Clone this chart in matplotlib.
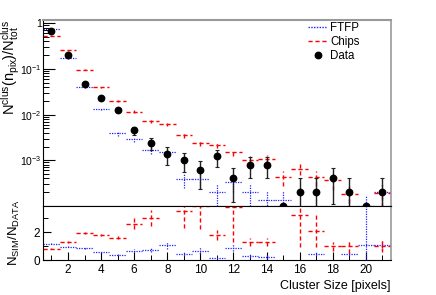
import numpy as np
import matplotlib
matplotlib.use("Agg")
from matplotlib import pyplot as plt
from matplotlib.lines import Line2D
from matplotlib.ticker import FixedLocator, FuncFormatter, NullFormatter

plt.rcParams['font.family'] = ['Liberation Sans', 'DejaVu Sans']
plt.rcParams['mathtext.fontset'] = 'custom'
plt.rcParams['mathtext.rm'] = 'Liberation Sans'
plt.rcParams['mathtext.it'] = 'Liberation Sans:italic'

# cluster size bins 1..21
size = np.arange(1, 22)

data = [0.69, 0.203, 0.047, 0.023, 0.0126, 0.0045, 0.0024, 0.0014, 0.001, 0.0006, 0.00122,
        0.0004, 0.00081, 0.00081, 0.0001, 0.0002, 0.0002, 0.0004, 0.0002, 0.0001, 0.0002]
data_err = [0.006, 0.0032, 0.0015, 0.0011, 0.0008, 0.001, 0.0007, 0.0006, 0.00045, 0.00037, 0.0005,
            0.00028, 0.0004, 0.0004, 0, 0.0002, 0.0002, 0.00029, 0.0002, 0, 0.0002]

chips = [0.536, 0.257, 0.0955, 0.0393, 0.0201, 0.0116, 0.0072, 0.0061, 0.0035, 0.00235, 0.00216,
         0.00152, 0.00102, 0.00109, 0.00043, 0.00066, 0.00043, 0.000366, 0.00018, np.nan, 0.000195]
chips_err = [0.005, 0.0036, 0.0022, 0.0014, 0.001, 0.00076, 0.0006, 0.00055, 0.00042, 0.00034, 0.00033,
             0.00028, 0.00023, 0.00023, 0.00015, 0.00018, 0.00015, 0.00014, 0.0001, np.nan, 0.0001]

ftfp = [0.75, 0.172, 0.040, 0.0135, 0.0039, 0.0029, 0.00169, 0.0015, 0.00039, 0.00039, 0.0002,
        0.00033, 0.0002, 0.000134, 0.000134, np.nan, 0.00008, np.nan, 0.00008, 0.0001, 0.0002]
ftfp_err = [0.006, 0.003, 0.0014, 0.0008, 0.00044, 0.00038, 0.00029, 0.00027, 0.00014, 0.00014, 0.0001,
            0.00013, 0.0001, 0.00008, 0.00008, np.nan, 0.00006, np.nan, 0.00006, 0.00007, 0.0001]

# ratio sim / data
ratio_chips = [0.82, 1.28, 1.95, 1.78, 1.59, 2.6, 3.0, np.nan, 3.47, 3.85, 1.8,
               3.8, 1.3, 1.3, np.nan, 3.23, 2.07, 0.99, 0.99, np.nan, 0.99]
ratio_chips_err = [0.03, 0.05, 0.08, 0.08, 0.1, 0.4, 0.6, np.nan, 1.15, 1.65, 0.35,
                   2.5, 0.3, 0.3, np.nan, 2.27, 1.15, 0.32, 0.47, np.nan, 0.45]
ratio_ftfp = [1.16, 0.94, 0.87, 0.58, 0.38, 0.67, 0.7, 1.06, 0.45, 0.67, 0.17,
              0.87, 0.3, 0.22, np.nan, np.nan, 0.43, np.nan, 0.43, 1.1, 1.1]
ratio_ftfp_err = [0.03, 0.04, 0.05, 0.05, 0.05, 0.12, 0.15, 0.25, 0.15, 0.25, 0.12,
                  0.25, 0.15, 0.12, np.nan, np.nan, 0.15, np.nan, 0.15, 3.0, 0.35]

RED = '#ff0000'
BLUE = '#2020ff'
DASH = (0, (3, 2))
DOT = (0, (1, 1))


def sim_hist(ax, x, y, e, color, ls, lw):
    eb = ax.errorbar(x, y, xerr=0.5, yerr=e, fmt='none', ecolor=color, elinewidth=lw, capsize=0)
    for lc in eb[2]:
        lc.set_linestyle(ls)
    return eb


fig = plt.figure(figsize=(4.36, 2.95), dpi=100)
ax = fig.add_axes([0.099, 0.3017, 0.797, 0.6305])
axr = fig.add_axes([0.099, 0.1186, 0.797, 0.1831])

# top panel
sim_hist(ax, size, ftfp, ftfp_err, BLUE, DOT, 0.9)
sim_hist(ax, size, chips, chips_err, RED, DASH, 1.0)
ax.errorbar(size, data, yerr=data_err, fmt='o', color='black', ms=4.6,
            ecolor='#222222', elinewidth=1.0, capsize=1.5, capthick=0.8)

ax.set_yscale('log')
ax.set_ylim(1e-4, 1.18)
ax.set_xlim(0.5, 21.5)
ax.yaxis.set_major_locator(FixedLocator([1, 0.1, 0.01, 0.001]))
ax.yaxis.set_major_formatter(FuncFormatter(lambda v, p: '1' if v == 1 else r'$10^{%d}$' % round(np.log10(v))))
minor = [m * 10.0 ** k for k in range(-4, 0) for m in range(2, 10)]
ax.yaxis.set_minor_locator(FixedLocator(minor))
ax.yaxis.set_minor_formatter(NullFormatter())
ax.tick_params(axis='y', which='major', direction='in', length=8.5, width=0.8, labelsize=7.5, pad=1)
ax.tick_params(axis='y', which='minor', direction='in', length=4.5, width=0.7)
ax.tick_params(axis='x', which='both', bottom=False, labelbottom=False)
ax.set_ylabel(r'$\mathrm{N^{clus}(n_{pix})/N^{clus}_{tot}}$', fontsize=10.5, loc='top')
ax.yaxis.set_label_coords(-0.062, 1.0)
ax.spines['top'].set_color('#999999')
ax.spines['top'].set_linewidth(1.5)
ax.spines['right'].set_color('#999999')
ax.spines['right'].set_linewidth(1.2)

handles = [Line2D([], [], color=BLUE, ls=DOT, lw=1.0),
           Line2D([], [], color=RED, ls=DASH, lw=1.0),
           Line2D([], [], color='black', marker='o', ls='none', ms=4.6)]
ax.legend(handles, ['FTFP', 'Chips', 'Data'], loc='upper left', bbox_to_anchor=(0.74, 1.03),
          frameon=False, fontsize=8.3, handlelength=1.6, handletextpad=0.3, labelspacing=0.15,
          borderpad=0.2)

# ratio panel
sim_hist(axr, size, ratio_ftfp, ratio_ftfp_err, BLUE, DOT, 0.9)
sim_hist(axr, size, ratio_chips, ratio_chips_err, RED, DASH, 1.0)
axr.set_xlim(0.5, 21.5)
axr.set_ylim(0, 3.86)
axr.set_xticks(np.arange(2, 22, 2))
axr.set_xticks(np.arange(1, 22, 2), minor=True)
axr.set_yticks([0, 2])
axr.set_yticks([1, 3], minor=True)
axr.tick_params(axis='x', which='major', direction='in', length=6, width=0.8, labelsize=8.5, pad=3)
axr.tick_params(axis='x', which='minor', direction='in', length=3.5, width=0.7)
axr.tick_params(axis='y', which='major', direction='in', length=6, width=0.8, labelsize=8.5, pad=2)
axr.tick_params(axis='y', which='minor', direction='in', length=3.5, width=0.7)
axr.set_ylabel(r'$\mathrm{N_{SIM}/N_{DATA}}$', fontsize=9.5)
axr.yaxis.set_label_coords(-0.062, 0.5)
axr.set_xlabel('Cluster Size [pixels]', fontsize=9, loc='right', labelpad=3)
axr.spines['right'].set_color('#999999')
axr.spines['right'].set_linewidth(1.2)

fig.savefig('out.png', dpi=100)
